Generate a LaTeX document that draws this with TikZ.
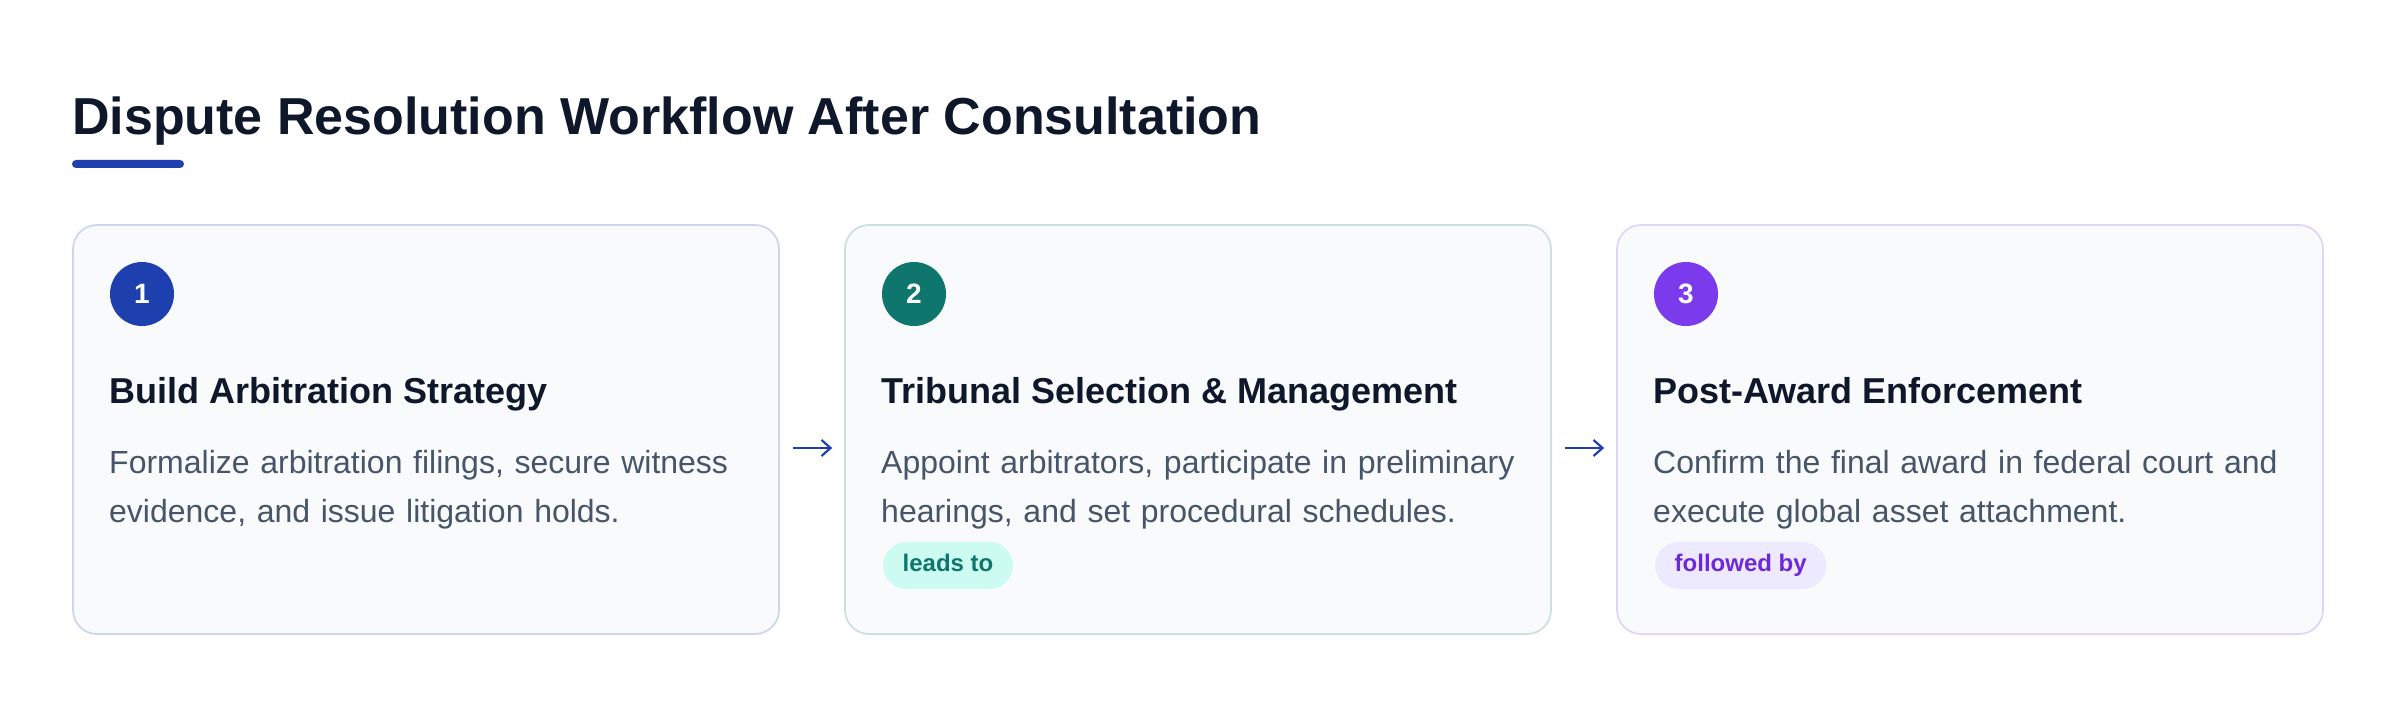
\documentclass[tikz,border=0pt]{standalone}
\usepackage{fontspec}
\setmainfont{Liberation Sans}
\usetikzlibrary{arrows.meta}
\definecolor{titlec}{HTML}{0F172A}
\definecolor{bodyc}{HTML}{475569}
\definecolor{cardfill}{HTML}{F8FAFC}
\definecolor{accA}{HTML}{1E40AF}
\definecolor{accB}{HTML}{0F766E}
\definecolor{accC}{HTML}{7C3AED}
\definecolor{bordA}{HTML}{CCD5ED}
\definecolor{bordB}{HTML}{C9E0DD}
\definecolor{bordC}{HTML}{DFD4F9}
\definecolor{pillBfill}{HTML}{CCFBF1}
\definecolor{pillCfill}{HTML}{EDE9FE}
\definecolor{pillCtext}{HTML}{6D28D9}
\tikzset{
  card/.style={draw, fill=cardfill, line width=1.7pt, rounded corners=24pt,
    minimum width=706pt, minimum height=409pt, inner sep=0pt},
  numdot/.style={circle, minimum size=64pt, inner sep=0pt, text=white,
    font=\fontsize{28}{28}\bfseries\selectfont, text height=20pt, text depth=0pt},
  headtxt/.style={anchor=base west, inner sep=0pt, text=titlec,
    font=\fontsize{36}{40}\bfseries\selectfont},
  bodytxt/.style={anchor=base west, inner sep=0pt, text=bodyc, text width=660pt,
    align=left, font=\fontsize{32}{49.5}\selectfont},
  pill/.style={anchor=west, rounded corners=23.5pt, minimum height=47pt,
    inner xsep=19.5pt, inner ysep=0pt, text height=17pt, text depth=5pt,
    font=\fontsize{24}{24}\bfseries\selectfont},
  flow/.style={draw=accA, line width=2.2pt, -{Straight Barb[length=9pt,width=16pt]},
    shorten <=13pt, shorten >=12pt}
}
\begin{document}
\begin{tikzpicture}[x=1pt,y=-1pt]
\useasboundingbox (0,0) rectangle (2400,708);
\fill[white] (0,0) rectangle (2400,708);
% title
\node[anchor=base west, inner sep=0pt, text=titlec,
  font=\fontsize{52}{60}\bfseries\selectfont] (title) at (72,135)
  {Dispute Resolution Workflow After Consultation};
\fill[accA, rounded corners=4pt] (72,160) rectangle (184,168);
% cards
\node[card, draw=bordA] (c1) at (426,429.5) {};
\node[card, draw=bordB] (c2) at (1198,429.5) {};
\node[card, draw=bordC] (c3) at (1970,429.5) {};
% numbers
\node[numdot, fill=accA] (n1) at (142,294) {1};
\node[numdot, fill=accB] (n2) at (914,294) {2};
\node[numdot, fill=accC] (n3) at (1686,294) {3};
% headings
\node[headtxt] (h1) at (109,403) {Build Arbitration Strategy};
\node[headtxt] (h2) at (881,403) {Tribunal Selection \& Management};
\node[headtxt] (h3) at (1653,403) {Post-Award Enforcement};
% bodies
\node[bodytxt] (b1) at (109,473) {Formalize arbitration filings, secure witness\\evidence, and issue litigation holds.};
\node[bodytxt] (b2) at (881,473) {Appoint arbitrators, participate in preliminary\\hearings, and set procedural schedules.};
\node[bodytxt] (b3) at (1653,473) {Confirm the final award in federal court and\\execute global asset attachment.};
% pills
\node[pill, fill=pillBfill, text=accB] (p2) at (883,565.5) {leads to};
\node[pill, fill=pillCfill, text=pillCtext] (p3) at (1655,565.5) {followed by};
% arrows
\draw[flow] ([yshift=-18.5pt]c1.east) -- ([yshift=-18.5pt]c2.west);
\draw[flow] ([yshift=-18.5pt]c2.east) -- ([yshift=-18.5pt]c3.west);
\end{tikzpicture}
\end{document}
